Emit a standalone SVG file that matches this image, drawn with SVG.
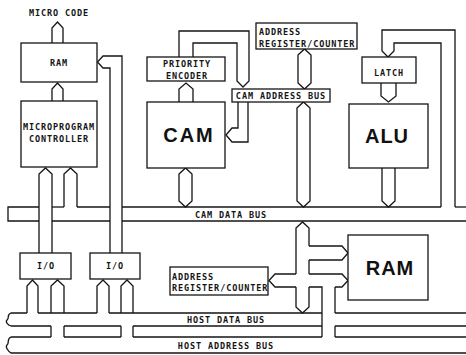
<svg xmlns="http://www.w3.org/2000/svg" width="466" height="355" viewBox="0 0 466 355">
<style>
.l{fill:none;stroke:#151515;stroke-width:1.3;stroke-linejoin:miter}
.b{fill:#fff;stroke:#151515;stroke-width:1.3}
.t{font-family:"DejaVu Sans Mono",monospace;font-weight:bold;font-size:8.5px;letter-spacing:0.9px;fill:#151515}
.big{font-family:"Liberation Sans",Arial,sans-serif;font-weight:bold;font-size:20px;fill:#111}
</style>
<rect width="466" height="355" fill="#fff"/>
<g id="connectors">
<!-- micro code arrow -->
<polyline class="l" points="52,43 52,28 57.5,22 63,28 63,43"/>
<!-- controller to RAM -->
<polyline class="l" points="52,101 52,89 57.5,83 63,89 63,101"/>
<!-- RAM side bus down to right I/O -->
<polyline class="l" points="122,253 122,56 103,56 97.5,62 103,68 110,68 110,253"/>
<!-- controller arrow 1 down to left I/O -->
<polyline class="l" points="39,253 39,174 45.5,168 52,174 52,253"/>
<!-- controller arrow 2 to CAM data bus -->
<polyline class="l" points="64,207 64,174 70.5,168 77,174 77,207"/>
<!-- CAM to PE -->
<polyline class="l" points="179,102 179,89 186,83 193,89 193,102"/>
<!-- PE loop to CAM ADDRESS BUS -->
<polyline class="l" points="179,57 179,31 249,31 249,81 243,87 237,81 237,43 193,43 193,57"/>
<!-- CAM ADDRESS BUS to CAM -->
<polyline class="l" points="238,102 238,128 232,128 226,135 232,142 248,142 248,102"/>
<!-- CAM to CAM data bus -->
<polygon class="l" points="179,174 185.5,168 192,174 192,201 185.5,207 179,201"/>
<!-- addr reg to cam addr bus -->
<polygon class="l" points="298,55 304.5,49 311,55 311,83 304.5,89 298,83"/>
<!-- cam addr bus to cam data bus -->
<polygon class="l" points="297,108 303.5,102 310,108 310,201 303.5,207 297,201"/>
<!-- ALU loop to latch -->
<polyline class="l" points="441,207 441,43 394,43 394,51 388,57 382,51 382,30 455,30 455,207"/>
<!-- latch to ALU -->
<polyline class="l" points="381,83 381,96 388.5,102 396,96 396,83"/>
<!-- ALU to CAM data bus -->
<polyline class="l" points="382,168 382,201 388.5,207 395,201 395,168"/>
<!-- CAM DATA BUS -->
<polyline class="l" points="39,207 8,207 8,221 39,221"/>
<line class="l" x1="52" y1="207" x2="64" y2="207"/>
<line class="l" x1="77" y1="207" x2="110" y2="207"/>
<line class="l" x1="122" y1="207" x2="441" y2="207"/>
<line class="l" x1="455" y1="207" x2="466" y2="207"/>
<line class="l" x1="52" y1="221" x2="110" y2="221"/>
<line class="l" x1="122" y1="221" x2="466" y2="221"/>
<!-- lower vertical bus -->
<polyline class="l" points="296,274 296,228 302.5,222 309,228 309,246"/>
<polyline class="l" points="309,260 309,274"/>
<polyline class="l" points="296,287 296,307 302.5,313 309,307 309,287"/>
<!-- branch to lower addr reg -->
<polyline class="l" points="296,274 275,274 269,280.5 275,287 296,287"/>
<!-- branches to RAM -->
<polyline class="l" points="309,246 342,246 348,253 342,260 309,260"/>
<polyline class="l" points="309,274 342,274 348,280.5 342,287 335,287"/>
<polyline class="l" points="309,287 322,287 322,337"/>
<polyline class="l" points="335,287 335,313"/>
<polyline class="l" points="335,326 335,337"/>
<!-- I/O arrows -->
<polyline class="l" points="27,313 27,286 32.5,280 38,286 38,313"/>
<polyline class="l" points="51,313 51,286 57.5,280 64,286 64,313"/>
<polyline class="l" points="97,313 97,286 103,280 109,286 109,313"/>
<polyline class="l" points="121,313 121,286 127,280 133,286 133,313"/>
<!-- HOST DATA BUS -->
<path class="l" d="M27,313 H11 C6,315 10,318 7,320 C5,322 8,325 11,326 H51 M38,313 H97 M109,313 H322 M335,313 H466 M64,326 H121 M133,326 H322 M335,326 H466"/>
<!-- connections data->address -->
<path class="l" d="M51,326 V337 M64,326 V337 M121,326 V337 M133,326 V337"/>
<!-- HOST ADDRESS BUS -->
<path class="l" d="M51,337 H11 C6,339 10,343 7,345 C5,347 8,351 11,353 H466 M64,337 H121 M133,337 H322 M335,337 H466"/>
</g>
<g id="micro-code"><text class="t" x="59" y="16" text-anchor="middle">MICRO CODE</text></g>
<g id="ram-top"><rect class="b" x="21" y="43" width="76" height="39"/><text class="t" x="59" y="66" text-anchor="middle">RAM</text></g>
<g id="controller"><rect class="b" x="21" y="101" width="76" height="66"/><text class="t" x="59" y="130" text-anchor="middle">MICROPROGRAM</text><text class="t" x="59" y="142" text-anchor="middle">CONTROLLER</text></g>
<g id="io-left"><rect class="b" x="20" y="253" width="51" height="26"/><text class="t" x="46" y="269" text-anchor="middle">I/O</text></g>
<g id="io-right"><rect class="b" x="90" y="253" width="50" height="26"/><text class="t" x="115" y="269" text-anchor="middle">I/O</text></g>
<g id="priority-encoder"><rect class="b" x="147" y="57" width="78" height="24"/><text class="t" x="187" y="67" text-anchor="middle">PRIORITY</text><text class="t" x="187" y="79" text-anchor="middle">ENCODER</text></g>
<g id="cam"><rect class="b" x="147" y="102" width="78" height="66"/><text class="big" x="189" y="142" text-anchor="middle" letter-spacing="2">CAM</text></g>
<g id="cam-address-bus"><rect class="b" x="232" y="89" width="98" height="13"/><text class="t" x="281" y="99" text-anchor="middle">CAM ADDRESS BUS</text></g>
<g id="addr-reg-top"><rect class="b" x="256" y="23" width="101" height="26"/><text class="t" x="259" y="35">ADDRESS</text><text class="t" x="259" y="47">REGISTER/COUNTER</text></g>
<g id="latch"><rect class="b" x="362" y="57" width="54" height="26"/><text class="t" x="389" y="76" text-anchor="middle">LATCH</text></g>
<g id="alu"><rect class="b" x="349" y="104" width="79" height="64"/><text class="big" x="387" y="143" text-anchor="middle" letter-spacing="1">ALU</text></g>
<g id="addr-reg-bottom"><rect class="b" x="170" y="267" width="98" height="28"/><text class="t" x="172" y="280">ADDRESS</text><text class="t" x="172" y="291">REGISTER/COUNTER</text></g>
<g id="ram-main"><rect class="b" x="348" y="235" width="80" height="65"/><text class="big" x="390" y="275" text-anchor="middle" letter-spacing="1">RAM</text></g>
<g id="bus-labels">
<text class="t" x="231" y="218" text-anchor="middle">CAM DATA BUS</text>
<text class="t" x="226" y="323" text-anchor="middle">HOST DATA BUS</text>
<text class="t" x="226" y="349" text-anchor="middle">HOST ADDRESS BUS</text>
</g>
</svg>
